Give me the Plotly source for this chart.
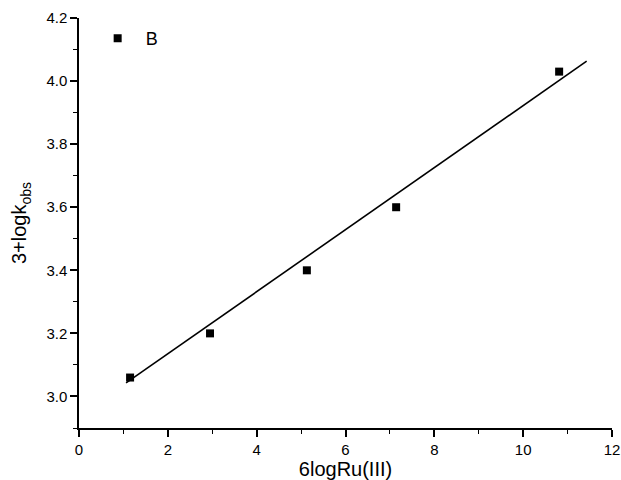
import plotly.graph_objects as go

x_vals = [1.15, 2.95, 5.13, 7.14, 10.81]
y_vals = [3.06, 3.20, 3.40, 3.60, 4.03]
fit_x = [1.06, 11.43]
fit_y = [3.043, 4.063]

fig = go.Figure()
fig.add_trace(go.Scatter(
    x=fit_x, y=fit_y, mode="lines",
    line=dict(color="black", width=1.6), showlegend=False, hoverinfo="skip"))
fig.add_trace(go.Scatter(
    x=x_vals, y=y_vals, mode="markers", name="B",
    marker=dict(symbol="square", size=8, color="black")))

font_family = "Liberation Sans, Arial, sans-serif"
fig.update_layout(
    width=621, height=480,
    margin=dict(l=79, r=9, t=18, b=52),
    paper_bgcolor="white", plot_bgcolor="white",
    font=dict(family=font_family, color="black", size=15),
    legend=dict(x=0.02, y=0.995, xanchor="left", yanchor="top",
                bgcolor="rgba(0,0,0,0)", font=dict(size=18), itemwidth=46),
)
fig.update_xaxes(
    range=[0, 12], tick0=0, dtick=2, showgrid=False, zeroline=False,
    showline=True, linecolor="black", linewidth=1.5, automargin=False,
    ticks="outside", ticklen=7, tickwidth=1.5, tickcolor="black",
    tickfont=dict(size=15),
    minor=dict(dtick=1, ticks="outside", ticklen=4, tickwidth=1.2, tickcolor="black"),
    title=dict(text="6logRu(III)", font=dict(size=20), standoff=6),
)
fig.update_yaxes(
    range=[2.9, 4.2], tick0=3.0, dtick=0.2, tickformat=".1f",
    showgrid=False, zeroline=False, automargin=False,
    showline=True, linecolor="black", linewidth=1.5,
    ticks="outside", ticklen=7, tickwidth=1.5, tickcolor="black",
    tickfont=dict(size=15),
    minor=dict(dtick=0.1, ticks="outside", ticklen=4, tickwidth=1.2, tickcolor="black"),
    title=dict(text="3+logk<sub>obs</sub>", font=dict(size=20), standoff=14),
)
fig.write_html("out.html", config={"displayModeBar": False},
               post_script="document.body.style.margin='0';document.body.style.overflow='hidden';")
